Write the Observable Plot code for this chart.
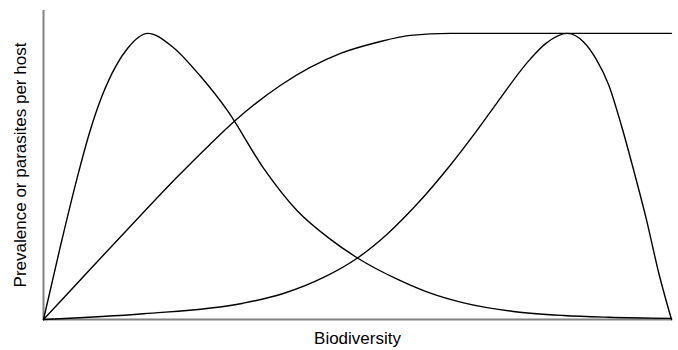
<!DOCTYPE html>
<html>
<head>
<meta charset="utf-8">
<script src="https://cdn.jsdelivr.net/npm/d3@7"></script>
<script src="https://cdn.jsdelivr.net/npm/@observablehq/plot@0.6"></script>
<style>
  html, body { margin: 0; padding: 0; background: #fff; }
</style>
</head>
<body>
<div id="chart"></div>
<script>
// Early-peaking curve
const xEarly = [0, 2.65, 5.3, 7.4, 9.3, 11.5, 13.4, 16.6, 20.7, 25, 29.3, 35, 40.4, 45.7, 50, 56.4, 61.6, 66.9, 74.8, 82.8, 90, 100];
const yEarly = [0, 0.252, 0.49, 0.658, 0.78, 0.885, 0.948, 1.0, 0.95, 0.85, 0.73, 0.53, 0.38, 0.28, 0.215, 0.14, 0.092, 0.058, 0.028, 0.014, 0.008, 0.004];

// Saturating curve
const xSat = [0, 5.3, 10.6, 15.9, 21.2, 26.5, 30.4, 37.7, 47.3, 53.2, 58.4, 64.8, 100];
const ySat = [0, 0.125, 0.25, 0.374, 0.496, 0.612, 0.693, 0.818, 0.93, 0.969, 0.993, 1.0, 1.0];

// Late-peaking curve
const xLate = [0, 15.9, 31.8, 38.2, 44.6, 50, 54.8, 59.6, 64.8, 69, 72.3, 77.5, 80, 83.4, 86, 88, 90, 92, 94, 96, 98, 100];
const yLate = [0, 0.02, 0.057, 0.091, 0.147, 0.215, 0.30, 0.406, 0.54, 0.66, 0.76, 0.91, 0.965, 1.0, 0.97, 0.91, 0.82, 0.68, 0.52, 0.35, 0.16, 0.0];

const xLabel = "Biodiversity";
const yLabel = "Prevalence or parasites per host";

const toRows = (xs, ys) => xs.map((x, i) => ({x, y: ys[i]}));

const lineOpts = {x: "x", y: "y", stroke: "#000", strokeWidth: 1.4, curve: "monotone-x"};

const chart = Plot.plot({
  width: 678,
  height: 350,
  marginLeft: 43,
  marginRight: 7,
  marginTop: 10,
  marginBottom: 31,
  style: {fontFamily: "'Liberation Sans', Arial, sans-serif", fontSize: "17px", background: "#fff", color: "#000"},
  x: {domain: [0, 100], axis: null},
  y: {domain: [0, 1.08], axis: null},
  marks: [
    Plot.ruleX([0], {y1: 0, y2: 1.08, stroke: "#808080", strokeWidth: 2}),
    Plot.ruleY([0], {x1: 0, x2: 100.2, stroke: "#808080", strokeWidth: 2}),
    Plot.line(toRows(xEarly, yEarly), lineOpts),
    Plot.line(toRows(xSat, ySat), lineOpts),
    Plot.line(toRows(xLate, yLate), lineOpts),
    Plot.text([xLabel], {text: d => d, frameAnchor: "bottom", dy: 19, lineAnchor: "middle", textAnchor: "middle", fill: "#000", fontSize: 17}),
    Plot.text([yLabel], {text: d => d, frameAnchor: "left", dx: -23, rotate: -90, lineAnchor: "middle", textAnchor: "middle", fill: "#000", fontSize: 17})
  ]
});
document.getElementById("chart").append(chart);
</script>
</body>
</html>
